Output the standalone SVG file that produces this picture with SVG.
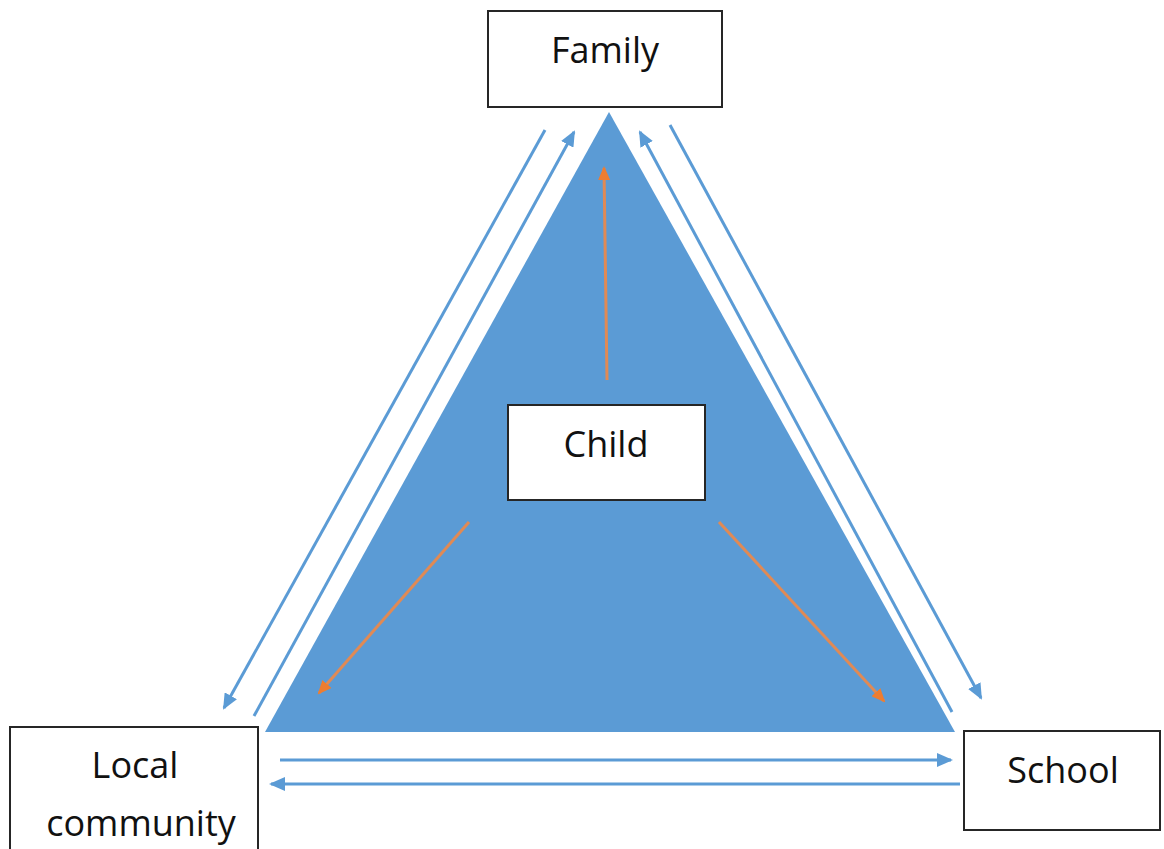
<svg xmlns="http://www.w3.org/2000/svg" width="1164" height="849" viewBox="0 0 1164 849">
<style>
.box{fill:#fff;stroke:#262626;stroke-width:2}
.lbl{font-family:"Open Sans","Liberation Sans",sans-serif;font-size:36px;fill:#111;text-anchor:middle}
.b{stroke:#5B9BD5;stroke-width:3;fill:none}
.o{stroke:#E08A55;stroke-width:3;fill:none}
</style>
<defs>
<marker id="ab" markerWidth="16" markerHeight="14" refX="14" refY="7" orient="auto" markerUnits="userSpaceOnUse" viewBox="0 0 16 14"><path d="M0,0 L16,7 L0,14 z" fill="#5B9BD5"/></marker>
<marker id="ao" markerWidth="14" markerHeight="12" refX="12" refY="6" orient="auto" markerUnits="userSpaceOnUse" viewBox="0 0 14 12"><path d="M0,0 L14,6 L0,12 z" fill="#ED7D31"/></marker>
</defs>
<polygon id="triangle" points="609,112 265,732 955,732" fill="#5B9BD5"/>
<g id="connectors">
<line class="b" x1="545" y1="130" x2="224" y2="708" marker-end="url(#ab)"/>
<line class="b" x1="254" y1="716" x2="574" y2="132" marker-end="url(#ab)"/>
<line class="b" x1="670" y1="125" x2="981" y2="698" marker-end="url(#ab)"/>
<line class="b" x1="952" y1="712" x2="640" y2="132" marker-end="url(#ab)"/>
<line class="b" x1="280" y1="760" x2="951" y2="760" marker-end="url(#ab)"/>
<line class="b" x1="960" y1="784" x2="271" y2="784" marker-end="url(#ab)"/>
<line class="o" x1="607" y1="380" x2="604" y2="168" marker-end="url(#ao)"/>
<line class="o" x1="469" y1="522" x2="319" y2="693" marker-end="url(#ao)"/>
<line class="o" x1="719" y1="522" x2="884" y2="701" marker-end="url(#ao)"/>
</g>
<g id="family"><rect class="box" x="488" y="11" width="234" height="96"/><text class="lbl" x="605" y="63">Family</text></g>
<g id="child"><rect class="box" x="508" y="405" width="197" height="95"/><text class="lbl" x="606" y="457">Child</text></g>
<g id="local-community"><rect class="box" x="10" y="727" width="248" height="130"/><text class="lbl" x="135" y="778">Local</text><text class="lbl" x="141" y="836">community</text></g>
<g id="school"><rect class="box" x="964" y="731" width="196" height="99"/><text class="lbl" x="1063" y="783">School</text></g>
</svg>
